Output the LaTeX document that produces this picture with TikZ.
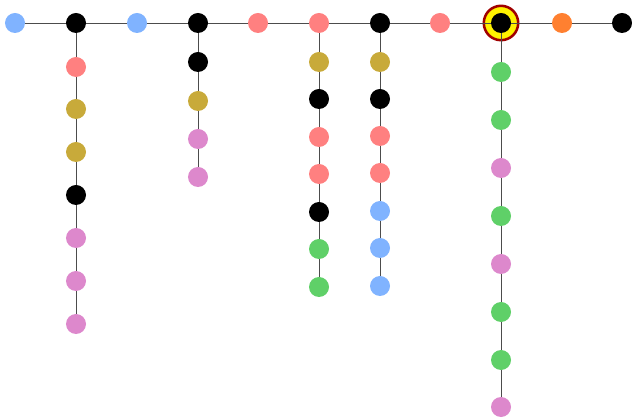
\documentclass[tikz,border=0pt]{standalone}
\usetikzlibrary{positioning}
\definecolor{nBlue}{HTML}{80B3FF}
\definecolor{nSalmon}{HTML}{FF8080}
\definecolor{nGold}{HTML}{C8AA3A}
\definecolor{nOrchid}{HTML}{DD88CC}
\definecolor{nGreen}{HTML}{5FD068}
\definecolor{nOrange}{HTML}{FF8030}
\definecolor{ringRed}{HTML}{A00000}
\tikzset{
  dot/.style    = {circle, inner sep=0pt, minimum size=5mm},
  link/.style   = {line width=0.7pt, black!70},
  hiring/.style = {circle, inner sep=0pt, minimum size=8.6mm, fill=yellow,
                   draw=ringRed, line width=1.8pt},
}

\begin{document}
\begin{tikzpicture}[x=0.025cm, y=-0.025cm]
  \useasboundingbox (0,0) rectangle (632,419);
  % highlighted root behind everything
  \node[hiring] (ring) at (501,23) {};
  % main row
  \foreach [count=\i] \col/\x in {nBlue/15, black/76, nBlue/137, black/198, nSalmon/258,
      nSalmon/319, black/380, nSalmon/440, black/501, nOrange/562, black/622}
    \node[dot, fill=\col] (t\i) at (\x,23) {};
  % branch under t2
  \foreach [count=\i] \col/\y in {nSalmon/67, nGold/109, nGold/152, black/195,
      nOrchid/238, nOrchid/281, nOrchid/324}
    \node[dot, fill=\col] (a\i) at (76,\y) {};
  % branch under t4
  \foreach [count=\i] \col/\y in {black/62, nGold/101, nOrchid/139, nOrchid/177}
    \node[dot, fill=\col] (b\i) at (198,\y) {};
  % branch under t6
  \foreach [count=\i] \col/\y in {nGold/62, black/99, nSalmon/137, nSalmon/174,
      black/212, nGreen/249, nGreen/287}
    \node[dot, fill=\col] (c\i) at (319,\y) {};
  % branch under t7
  \foreach [count=\i] \col/\y in {nGold/62, black/99, nSalmon/136, nSalmon/173,
      nBlue/211, nBlue/248, nBlue/286}
    \node[dot, fill=\col] (d\i) at (380,\y) {};
  % branch under t9
  \foreach [count=\i] \col/\y in {nGreen/72, nGreen/120, nOrchid/168, nGreen/216,
      nOrchid/264, nGreen/312, nGreen/360, nOrchid/407}
    \node[dot, fill=\col] (e\i) at (501,\y) {};
  % links
  \foreach \i [evaluate=\i as \j using int(\i+1)] in {1,...,10}
    \draw[link] (t\i) -- (t\j);
  \draw[link] (t2) -- (a1);
  \foreach \i [evaluate=\i as \j using int(\i+1)] in {1,...,6}
    \draw[link] (a\i) -- (a\j);
  \draw[link] (t4) -- (b1);
  \foreach \i [evaluate=\i as \j using int(\i+1)] in {1,...,3}
    \draw[link] (b\i) -- (b\j);
  \draw[link] (t6) -- (c1);
  \foreach \i [evaluate=\i as \j using int(\i+1)] in {1,...,6}
    \draw[link] (c\i) -- (c\j);
  \draw[link] (t7) -- (d1);
  \foreach \i [evaluate=\i as \j using int(\i+1)] in {1,...,6}
    \draw[link] (d\i) -- (d\j);
  \draw[link] (t9) -- (e1);
  \foreach \i [evaluate=\i as \j using int(\i+1)] in {1,...,7}
    \draw[link] (e\i) -- (e\j);
\end{tikzpicture}
\end{document}
